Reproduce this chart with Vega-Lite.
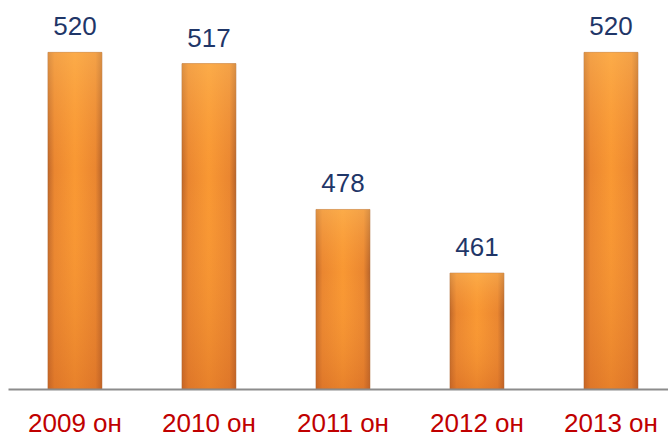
{
  "$schema": "https://vega.github.io/schema/vega-lite/v6.json",
  "width": 660,
  "height": 389,
  "autosize": "none",
  "padding": {"left": 8, "top": 0, "right": 0, "bottom": 44},
  "background": "white",
  "config": {"view": {"stroke": null}, "font": "Liberation Sans"},
  "data": {"values": [
    {"year": "2009 он", "value": 520},
    {"year": "2010 он", "value": 517},
    {"year": "2011 он", "value": 478},
    {"year": "2012 он", "value": 461},
    {"year": "2013 он", "value": 520}
  ]},
  "encoding": {
    "x": {"field": "year", "type": "nominal", "sort": null,
      "scale": {"paddingInner": 0.597, "paddingOuter": 0.261, "align": 0.571},
      "axis": {"title": null, "ticks": false, "tickSize": 0, "labelAngle": 0, "labelFont": "Liberation Sans", "labelFontSize": 26, "labelColor": "#c00000", "labelBaseline": "alphabetic", "labelPadding": 42, "domainColor": "#8c8c8c", "domainWidth": 2, "grid": false, "zindex": 1}},
    "y": {"field": "value", "type": "quantitative",
      "scale": {"domain": [430, 534], "nice": false, "zero": false},
      "axis": null}
  },
  "layer": [
    {"mark": {"type": "bar", "stroke": "#a85f28", "strokeWidth": 0.8, "strokeOpacity": 0.6,
      "fill": {"gradient": "linear", "x1": 0, "y1": 0, "x2": 1, "y2": 0, "stops": [
        {"offset": 0, "color": "#c0682a"},
        {"offset": 0.12, "color": "#ea8630"},
        {"offset": 0.5, "color": "#f99833"},
        {"offset": 0.88, "color": "#ea8630"},
        {"offset": 1, "color": "#b8642a"}]}},
      "encoding": {"y2": {"datum": 430}}},
    {"mark": {"type": "bar",
      "fill": {"gradient": "linear", "x1": 0, "y1": 0, "x2": 0, "y2": 1, "stops": [
        {"offset": 0, "color": "rgba(255,195,100,0.45)"},
        {"offset": 0.35, "color": "rgba(255,170,70,0.0)"},
        {"offset": 1, "color": "rgba(205,95,30,0.4)"}]}},
      "encoding": {"y2": {"datum": 430}}},
    {"mark": {"type": "text", "baseline": "alphabetic", "dy": -17, "font": "Liberation Sans", "fontSize": 26, "color": "#1f3668"},
      "encoding": {"text": {"field": "value", "type": "quantitative"}}}
  ]
}
